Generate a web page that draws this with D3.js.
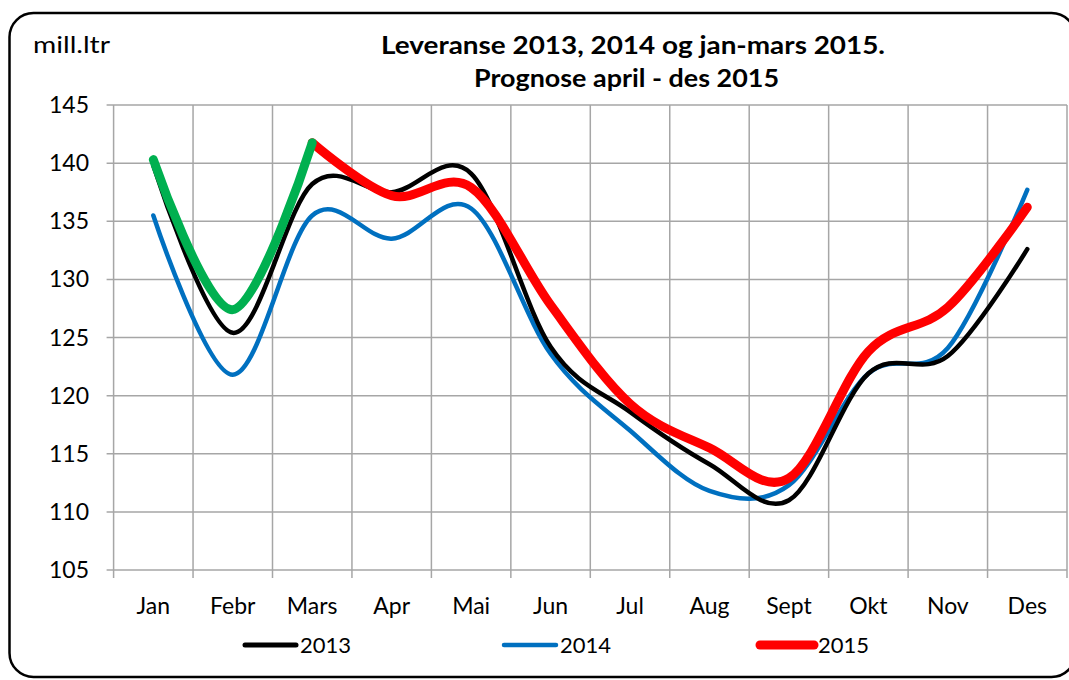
<!DOCTYPE html>
<html>
<head>
<meta charset="utf-8">
<script src="https://cdn.jsdelivr.net/npm/d3@7"></script>
<style>
  body { margin: 0; background: #fff; }
  text { font-family: Lato, "Liberation Sans", sans-serif; fill: #000; }
</style>
</head>
<body>
<div id="chart"></div>
<script>
// Size
var chart_width  = 1069;
var chart_height = 680;

// Data
var months     = ['Jan', 'Febr', 'Mars', 'Apr', 'Mai', 'Jun', 'Jul', 'Aug', 'Sept', 'Okt', 'Nov', 'Des'];
var y_ticks    = [105, 110, 115, 120, 125, 130, 135, 140, 145];
var v2013      = [139.8, 125.4, 138.2, 137.5, 139.1, 124.2, 118.6, 114.1, 111.0, 121.9, 123.4, 132.6];
var v2014      = [135.5, 121.8, 135.5, 133.5, 136.1, 123.6, 117.0, 111.8, 112.3, 121.9, 124.1, 137.7];
var actual2015 = [140.3, 127.4, 141.75];                 // jan - mars
var prog_months = ['Mars', 'Apr', 'Mai', 'Jun', 'Jul', 'Aug', 'Sept', 'Okt', 'Nov', 'Des'];
var prog2015   = [141.75, 137.2, 137.9, 127.8, 119.3, 115.5, 112.9, 123.8, 127.6, 136.2];

var plot = { left: 113.6, right: 1067, top: 105, bottom: 570 };

var svg = d3.select('#chart')
  .append('svg')
  .attr('width', chart_width)
  .attr('height', chart_height);

// frame
svg.append('rect')
  .attr('x', 9.5)
  .attr('y', 13)
  .attr('width', 1066)
  .attr('height', 664)
  .attr('rx', 24)
  .attr('fill', '#fff')
  .attr('stroke', '#000')
  .attr('stroke-width', 2.5);

// Scales
var x = d3.scaleBand()
  .domain(months)
  .range([plot.left, plot.right])
  .padding(0);

var y = d3.scaleLinear()
  .domain([105, 145])
  .range([plot.bottom, plot.top]);

var cx = (m) => x(m) + x.bandwidth() / 2;

// grid
var gridColor = '#a6a6a6';

svg.append('g')
  .selectAll('line')
  .data(y_ticks)
  .enter()
  .append('line')
  .attr('x1', plot.left - 7)
  .attr('x2', plot.right)
  .attr('y1', (d) => y(d))
  .attr('y2', (d) => y(d))
  .attr('stroke', gridColor)
  .attr('stroke-width', 1.5);

var bounds = months.map((m) => x(m)).concat([plot.right]);
svg.append('g')
  .selectAll('line')
  .data(bounds)
  .enter()
  .append('line')
  .attr('x1', (d) => d)
  .attr('x2', (d) => d)
  .attr('y1', plot.top)
  .attr('y2', plot.bottom + 8)
  .attr('stroke', gridColor)
  .attr('stroke-width', 1.5);

// y labels
svg.append('g')
  .selectAll('text')
  .data(y_ticks)
  .enter()
  .append('text')
  .attr('x', 89)
  .attr('y', (d) => y(d))
  .attr('dy', '0.35em')
  .attr('text-anchor', 'end')
  .attr('font-size', 23)
  .text((d) => d);

// x labels
svg.append('g')
  .selectAll('text')
  .data(months)
  .enter()
  .append('text')
  .attr('x', (d) => cx(d))
  .attr('y', 606)
  .attr('dy', '0.35em')
  .attr('text-anchor', 'middle')
  .attr('font-size', 23)
  .text((d) => d);

// titles
svg.append('text')
  .attr('x', 33)
  .attr('y', 45)
  .attr('dy', '0.35em')
  .attr('font-size', 24)
  .attr('textLength', 77)
  .attr('lengthAdjust', 'spacingAndGlyphs')
  .text('mill.ltr');

svg.append('text')
  .attr('x', 381)
  .attr('y', 45)
  .attr('dy', '0.35em')
  .attr('font-size', 25)
  .attr('font-weight', 'bold')
  .attr('textLength', 504)
  .attr('lengthAdjust', 'spacingAndGlyphs')
  .text('Leveranse 2013, 2014 og jan-mars 2015.');

svg.append('text')
  .attr('x', 474)
  .attr('y', 78)
  .attr('dy', '0.35em')
  .attr('font-size', 25)
  .attr('font-weight', 'bold')
  .attr('textLength', 305)
  .attr('lengthAdjust', 'spacingAndGlyphs')
  .text('Prognose april - des 2015');

// lines
var line = d3.line()
  .x((d) => cx(d.m))
  .y((d) => y(d.v))
  .curve(d3.curveCardinal.tension(0));

var zipm = (ms, vs) => vs.map((v, i) => ({ m: ms[i], v: v }));

var series = [
  { name: '2014', color: '#0070C0', width: 4.5, pts: zipm(months, v2014) },
  { name: '2013', color: '#000000', width: 4.5, pts: zipm(months, v2013) },
  { name: '2015', color: '#FF0000', width: 9,   pts: zipm(prog_months, prog2015) },
  { name: 'akt',  color: '#00B050', width: 9,   pts: zipm(months, actual2015) }
];

svg.append('g')
  .selectAll('path')
  .data(series)
  .enter()
  .append('path')
  .attr('d', (d) => line(d.pts))
  .attr('fill', 'none')
  .attr('stroke', (d) => d.color)
  .attr('stroke-width', (d) => d.width)
  .attr('stroke-linecap', 'round')
  .attr('stroke-linejoin', 'round');

// legend
var legend = [
  { name: '2013', color: '#000000', width: 5, x1: 245, x2: 296 },
  { name: '2014', color: '#0070C0', width: 4.5, x1: 504, x2: 556 },
  { name: '2015', color: '#FF0000', width: 9, x1: 760, x2: 814 }
];

var lg = svg.append('g')
  .selectAll('g')
  .data(legend)
  .enter()
  .append('g');

lg.append('line')
  .attr('x1', (d) => d.x1)
  .attr('x2', (d) => d.x2)
  .attr('y1', 645)
  .attr('y2', 645)
  .attr('stroke', (d) => d.color)
  .attr('stroke-width', (d) => d.width)
  .attr('stroke-linecap', 'round');

lg.append('text')
  .attr('x', (d) => d.x2 + 4)
  .attr('y', 645)
  .attr('dy', '0.35em')
  .attr('font-size', 22)
  .text((d) => d.name);
</script>
</body>
</html>
